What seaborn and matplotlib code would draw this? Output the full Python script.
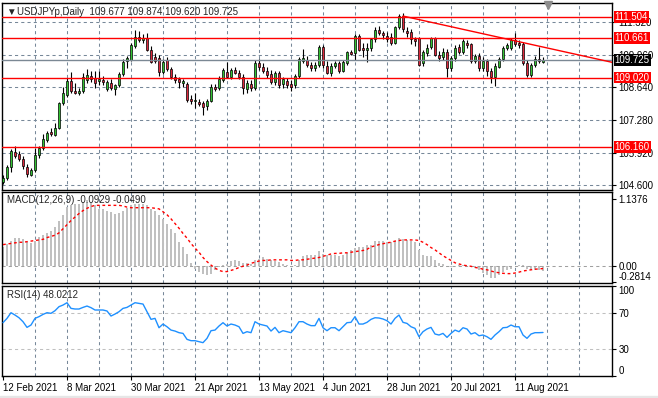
import numpy as np
import pandas as pd
import matplotlib.pyplot as plt
import seaborn as sns
from matplotlib.transforms import blended_transform_factory


# Daily USDJPYp bars, 12 Feb 2021 .. 20 Aug 2021
opens = [104.72, 104.88, 105.33, 105.97, 105.88, 105.67, 105.34, 105.02, 105.22, 105.84,
         106.12, 106.45, 106.78, 106.66, 106.95, 107.97, 108.30, 108.88, 108.48, 108.37,
         108.47, 108.92, 109.08, 109.02, 108.87, 108.93, 108.54, 108.81, 108.54, 108.72,
         109.17, 109.70, 109.74, 110.33, 110.68, 110.57, 110.64, 110.16, 109.85, 109.81,
         109.26, 109.74, 109.37, 109.03, 108.95, 108.78, 108.76, 108.13, 108.05, 108.00,
         107.96, 107.85, 108.07, 108.62, 108.58, 108.92, 109.26, 109.03, 109.33, 109.22,
         109.06, 108.54, 108.76, 108.58, 109.63, 109.47, 109.30, 109.17, 108.85, 109.20,
         108.76, 108.88, 108.75, 108.72, 109.08, 109.70, 109.74, 109.54, 109.43, 109.54,
         110.27, 109.50, 109.22, 109.50, 109.61, 109.30, 109.61, 110.09, 110.02, 110.73,
         110.23, 110.16, 110.23, 110.60, 110.98, 110.87, 110.73, 110.68, 110.46, 111.11,
         111.55, 110.95, 110.91, 110.60, 110.64, 109.61, 110.02, 110.29, 110.64, 109.95,
         109.85, 110.09, 109.40, 109.81, 110.27, 110.09, 110.46, 110.39, 109.72, 109.91,
         109.40, 109.70, 109.29, 109.03, 109.47, 109.77, 110.23, 110.23, 110.57, 110.43,
         110.40, 109.63, 109.13, 109.54, 109.77, 109.677]

highs = [105.00, 105.40, 106.08, 106.22, 106.00, 105.80, 105.45, 105.30, 106.10, 106.20,
         106.70, 106.80, 106.95, 107.15, 108.00, 108.62, 109.00, 109.26, 108.80, 108.60,
         109.20, 109.37, 109.30, 109.30, 109.30, 109.10, 108.90, 108.95, 108.75, 109.25,
         109.80, 109.90, 110.45, 110.98, 110.95, 110.80, 110.85, 110.30, 110.05, 109.95,
         109.78, 109.85, 109.45, 109.15, 109.05, 108.95, 108.85, 108.30, 108.40, 108.15,
         108.05, 108.15, 108.75, 108.75, 109.10, 109.40, 109.67, 109.40, 109.45, 109.35,
         109.15, 108.90, 108.90, 109.75, 109.80, 109.60, 109.45, 109.35, 109.30, 109.30,
         109.05, 109.00, 108.90, 109.15, 109.85, 110.18, 109.90, 109.65, 109.65, 110.35,
         110.35, 109.70, 109.60, 109.70, 109.70, 109.75, 110.10, 110.15, 110.80, 110.80,
         110.46, 110.43, 110.65, 111.10, 111.15, 110.95, 110.90, 110.85, 111.15, 111.64,
         111.69, 111.10, 111.00, 110.70, 110.70, 110.15, 110.40, 110.70, 110.70, 110.10,
         110.25, 110.20, 109.90, 110.35, 110.40, 110.60, 110.58, 110.45, 110.00, 110.05,
         109.85, 109.80, 109.40, 109.60, 109.85, 110.30, 110.45, 110.65, 110.84, 110.55,
         110.50, 109.75, 109.60, 109.90, 110.29, 109.874]

lows = [104.62, 104.80, 105.14, 105.72, 105.60, 105.25, 104.94, 104.96, 105.15, 105.70,
        106.05, 106.35, 106.60, 106.60, 106.90, 107.90, 108.20, 108.40, 108.35, 108.30,
        108.40, 108.80, 108.85, 108.60, 108.70, 108.70, 108.45, 108.50, 108.30, 108.65,
        109.10, 109.40, 109.70, 110.25, 110.50, 110.45, 110.10, 109.60, 109.60, 109.10,
        109.15, 109.30, 108.95, 108.80, 108.60, 108.65, 108.00, 107.95, 107.75, 107.85,
        107.48, 107.70, 108.00, 108.45, 108.50, 108.85, 109.00, 108.95, 109.15, 108.95,
        108.34, 108.40, 108.45, 108.50, 109.35, 109.20, 109.00, 108.75, 108.70, 108.60,
        108.60, 108.60, 108.45, 108.60, 109.00, 109.60, 109.45, 109.30, 109.30, 109.45,
        109.40, 109.15, 109.10, 109.40, 109.20, 109.25, 109.55, 109.95, 109.74, 110.10,
        109.85, 109.67, 110.10, 110.50, 110.75, 110.60, 110.50, 110.35, 110.40, 111.00,
        110.90, 110.70, 110.40, 110.30, 109.50, 109.50, 109.90, 110.20, 109.90, 109.70,
        109.75, 109.06, 109.30, 109.70, 110.00, 110.00, 110.25, 109.60, 109.60, 109.30,
        109.30, 109.10, 108.81, 108.67, 109.40, 109.70, 110.15, 110.15, 110.30, 110.25,
        109.55, 109.05, 109.05, 109.45, 109.60, 109.620]

closes = [104.90, 105.33, 105.99, 105.80, 105.68, 105.36, 105.05, 105.20, 105.85, 106.13,
          106.48, 106.74, 106.68, 106.95, 107.97, 108.38, 108.88, 108.47, 108.40, 108.48,
          109.04, 109.11, 108.95, 108.81, 108.95, 108.82, 108.85, 108.58, 108.71, 109.17,
          109.67, 109.81, 110.36, 110.68, 110.57, 110.66, 110.16, 109.67, 109.70, 109.26,
          109.67, 109.37, 109.03, 108.92, 108.85, 108.88, 108.10, 108.06, 108.10, 107.93,
          107.82, 108.07, 108.62, 108.54, 108.95, 109.33, 109.06, 109.33, 109.22, 109.06,
          108.58, 108.79, 108.58, 109.63, 109.47, 109.30, 109.13, 108.85, 109.22, 108.72,
          108.95, 108.72, 108.65, 109.08, 109.77, 109.81, 109.54, 109.43, 109.54, 110.27,
          109.54, 109.22, 109.50, 109.61, 109.30, 109.67, 110.06, 109.99, 110.73, 110.16,
          110.16, 110.23, 110.60, 110.98, 110.84, 110.77, 110.60, 110.46, 111.11, 111.55,
          111.01, 110.84, 110.60, 110.52, 109.54, 110.09, 110.23, 110.64, 109.95, 109.81,
          110.09, 109.40, 109.81, 110.25, 110.09, 110.54, 110.35, 109.72, 109.91, 109.40,
          109.72, 109.29, 109.03, 109.50, 109.77, 110.23, 110.36, 110.57, 110.40, 110.35,
          109.61, 109.13, 109.54, 109.77, 109.70, 109.725]

# MACD(12,26,9): main (grey histogram) and signal (red dotted)
macd_main = [0.32, 0.375, 0.43, 0.47, 0.47, 0.45, 0.40, 0.39, 0.43, 0.49,
             0.52, 0.56, 0.60, 0.66, 0.76, 0.86, 1.00, 1.03, 1.05, 1.06,
             1.09, 1.12, 1.07, 1.03, 0.97, 0.97, 0.93, 0.92, 0.89, 0.90,
             0.94, 0.99, 1.03, 1.06, 1.06, 1.06, 1.03, 0.97, 0.94, 0.86,
             0.80, 0.72, 0.63, 0.55, 0.40, 0.32, 0.20, 0.05, -0.05, -0.11,
             -0.15, -0.165, -0.14, -0.08, -0.02, 0.02, 0.03, 0.08, 0.09, 0.08,
             0.05, 0.05, 0.03, 0.09, 0.12, 0.15, 0.12, 0.09, 0.08, 0.06,
             0.03, 0.02, 0.00, 0.02, 0.10, 0.165, 0.18, 0.18, 0.18, 0.245,
             0.20, 0.18, 0.18, 0.19, 0.16, 0.18, 0.22, 0.26, 0.31, 0.32,
             0.32, 0.35, 0.36, 0.42, 0.43, 0.43, 0.40, 0.40, 0.42, 0.48,
             0.46, 0.44, 0.43, 0.40, 0.26, 0.19, 0.17, 0.16, 0.10, 0.05,
             0.03, -0.02, -0.03, -0.01, 0.01, 0.02, 0.00, -0.03, -0.045, -0.08,
             -0.125, -0.165, -0.205, -0.205, -0.165, -0.11, -0.08, -0.05, -0.01, 0.02,
             0.005, -0.05, -0.08, -0.08, -0.07, -0.0929]

macd_signal = [0.36, 0.37, 0.38, 0.39, 0.40, 0.40, 0.41, 0.42, 0.43, 0.44,
               0.45, 0.48, 0.50, 0.52, 0.56, 0.63, 0.70, 0.77, 0.83, 0.89,
               0.94, 0.98, 1.01, 1.03, 1.03, 1.03, 1.03, 1.03, 1.03, 1.03,
               1.02, 1.00, 0.99, 0.99, 0.99, 0.99, 0.99, 0.99, 0.98, 0.97,
               0.92, 0.87, 0.80, 0.72, 0.64, 0.55, 0.47, 0.38, 0.30, 0.23,
               0.14, 0.07, 0.01, -0.04, -0.08, -0.10, -0.10, -0.08, -0.06, -0.03,
               -0.01, 0.01, 0.04, 0.06, 0.08, 0.09, 0.09, 0.10, 0.10, 0.10,
               0.10, 0.10, 0.09, 0.09, 0.10, 0.10, 0.11, 0.12, 0.13, 0.14,
               0.16, 0.18, 0.20, 0.21, 0.21, 0.22, 0.22, 0.23, 0.24, 0.25,
               0.26, 0.28, 0.32, 0.34, 0.36, 0.375, 0.39, 0.40, 0.42, 0.43,
               0.44, 0.44, 0.44, 0.44, 0.43, 0.40, 0.36, 0.31, 0.27, 0.22,
               0.17, 0.13, 0.09, 0.05, 0.03, 0.01, 0.00, -0.01, -0.03, -0.04,
               -0.06, -0.07, -0.09, -0.11, -0.12, -0.13, -0.135, -0.135, -0.125, -0.11,
               -0.09, -0.08, -0.07, -0.06, -0.055, -0.049]

# RSI(14)
rsi = [58.9, 63.7, 70.0, 67.4, 64.4, 60.0, 53.7, 56.3, 63.7, 65.6,
       68.1, 70.0, 69.3, 72.2, 76.7, 78.5, 81.1, 74.8, 74.1, 74.1,
       75.9, 77.4, 75.6, 73.0, 73.0, 73.0, 71.9, 66.3, 68.5, 71.1,
       74.8, 75.9, 78.5, 81.1, 80.4, 79.6, 71.1, 62.6, 63.7, 53.3,
       57.4, 54.4, 50.7, 49.6, 47.8, 47.0, 40.4, 38.9, 38.9, 37.8,
       36.7, 41.5, 50.0, 50.7, 55.2, 58.9, 55.2, 57.4, 56.3, 54.4,
       47.0, 48.9, 47.8, 60.0, 57.4, 56.3, 55.2, 49.6, 53.7, 47.8,
       50.0, 48.9, 47.8, 53.3, 60.0, 60.0, 57.4, 55.6, 55.6, 63.7,
       53.3, 50.0, 53.3, 53.3, 50.0, 54.4, 58.9, 59.3, 65.6, 57.4,
       57.4, 59.3, 62.6, 64.4, 64.1, 63.0, 61.1, 57.4, 63.7, 67.4,
       59.3, 58.1, 54.4, 52.6, 43.3, 48.9, 51.9, 53.7, 46.3, 45.2,
       47.0, 42.6, 47.0, 50.7, 48.9, 53.3, 51.9, 46.3, 47.8, 44.4,
       45.2, 43.3, 40.4, 45.2, 48.9, 53.3, 53.7, 56.3, 54.4, 54.4,
       45.2, 41.5, 46.3, 47.8, 47.8, 48.0212]

# axis text
price_ticks = [111.320, 109.960, 108.640, 107.280, 105.920, 104.600]
red_levels = [111.504, 110.661, 109.020, 106.160]
macd_ticks = [1.1376, 0.0, -0.2814]
macd_tick_labels = ['1.1376', '0.00', '-0.2814']
rsi_ticks = [100, 70, 30, 0]
rsi_levels = [70, 30]
date_bars = [0, 16, 32, 48, 64, 80, 96, 112, 128]
date_labels = ['12 Feb 2021', '8 Mar 2021', '30 Mar 2021', '21 Apr 2021', '13 May 2021',
               '4 Jun 2021', '28 Jun 2021', '20 Jul 2021', '11 Aug 2021']

# trendline anchors (bar, price), drawn as a ray to the right
trend_a = (100, 111.55)
trend_b = (128, 110.53)


df = pd.DataFrame({'open': opens, 'high': highs, 'low': lows, 'close': closes,
                   'macd': macd_main, 'signal': macd_signal, 'rsi': rsi})
df['bar'] = np.arange(len(df))

sns.set_style("white")
plt.rcParams['font.family'] = ['Liberation Sans', 'DejaVu Sans']
plt.rcParams['font.size'] = 7

W, H = 658, 398
fig = plt.figure(figsize=(W / 100, H / 100), dpi=100)


def panel(top, bottom):
    return fig.add_axes([2 / W, 1 - bottom / H, 610 / W, (bottom - top) / H])


ax = panel(2.7, 190)
ax_macd = panel(191.7, 282.7)
ax_rsi = panel(285.7, 375.7)

x_left, x_right = -0.25, 152.25
grid_kw = dict(color='#778899', lw=0.75, ls=(0, (3, 3)), zorder=1)

# Price panel
for p in price_ticks:
    ax.axhline(p, **grid_kw)

up = df['close'] >= df['open']
body_col = np.where(up, '#33c233', '#dc283c')
ax.vlines(df['bar'], df['low'], df['high'], color='black', lw=0.8, zorder=3)
ax.bar(df['bar'], (df['close'] - df['open']).abs().clip(lower=0.02),
       bottom=df[['open', 'close']].min(axis=1), width=0.72,
       color=body_col, edgecolor='black', linewidth=0.5, zorder=4)

for lv in red_levels:
    ax.axhline(lv, color='red', lw=1, zorder=5)
last_close = closes[-1]
ax.axhline(last_close, color='#7b8894', lw=1, zorder=5)

slope = (trend_b[1] - trend_a[1]) / (trend_b[0] - trend_a[0])
ray_x = [trend_a[0], x_right]
ray_y = [trend_a[1], trend_a[1] + slope * (x_right - trend_a[0])]
sns.lineplot(x=ray_x, y=ray_y, ax=ax, color='red', lw=1, zorder=6)

ax.set_ylim(104.39, 112.10)
ax.set_yticks(price_ticks)
ax.set_yticklabels([f'{p:.3f}' for p in price_ticks])

tr = blended_transform_factory(ax.transAxes, ax.transData)
for lv in red_levels:
    ax.text(1.0045, lv, f'{lv:.3f}', transform=tr, color='white', fontsize=7,
            va='center', ha='left', zorder=10, clip_on=False,
            bbox=dict(facecolor='red', edgecolor='none', pad=0.7))
ax.text(1.0045, last_close, f'{last_close:.3f}', transform=tr, color='white', fontsize=7,
        va='center', ha='left', zorder=10, clip_on=False,
        bbox=dict(facecolor='black', edgecolor='none', pad=0.7))

header = f'USDJPYp,Daily  {opens[-1]:.3f} {highs[-1]:.3f} {lows[-1]:.3f} {closes[-1]:.3f}'
ax.text(0.0062, 0.95, '\u25bc', transform=ax.transAxes, fontsize=7, va='center', zorder=10)
ax.text(0.0246, 0.95, header, transform=ax.transAxes, fontsize=7, va='center', zorder=10)
ax.plot([0.895], [0.988], marker='v', ms=6, color='#8c8c8c', transform=ax.transAxes,
        clip_on=False, zorder=10)

# MACD panel
ax_macd.bar(df['bar'], df['macd'], width=0.3, color='#c0c0c0', linewidth=0, zorder=2)
ax_macd.axhline(0, color='#a0a0a0', lw=0.75, ls=(0, (3, 3)), zorder=2)
sns.lineplot(data=df, x='bar', y='signal', ax=ax_macd, color='red', lw=1,
             linestyle=(0, (2, 2)), zorder=3)
ax_macd.set_ylim(-0.29, 1.263)
ax_macd.set_yticks(macd_ticks)
ax_macd.set_yticklabels(macd_tick_labels)
ax_macd.text(0.008, 0.909, f'MACD(12,26,9) {macd_main[-1]:.4f} {macd_signal[-1]:.4f}',
             transform=ax_macd.transAxes, fontsize=7, va='center', zorder=10)

# RSI panel
for lv in rsi_levels:
    ax_rsi.axhline(lv, color='#c0c0c0', lw=0.75, ls=(0, (3, 3)), zorder=2)
sns.lineplot(data=df, x='bar', y='rsi', ax=ax_rsi, color='#1e90ff', lw=1, zorder=3)
ax_rsi.set_ylim(0, 100)
ax_rsi.set_yticks(rsi_ticks)
ax_rsi.set_yticklabels([str(v) for v in rsi_ticks])
ax_rsi.text(0.008, 0.902, f'RSI(14) {rsi[-1]:.4f}', transform=ax_rsi.transAxes,
            fontsize=7, va='center', zorder=10)

ax_rsi.set_xticks(date_bars)
ax_rsi.set_xticklabels(date_labels, ha='left')

# common styling
for a in (ax, ax_macd, ax_rsi):
    for b in range(8, 152, 8):
        a.axvline(b, **grid_kw)
    a.set_xlim(x_left, x_right)
    a.set_xlabel('')
    a.set_ylabel('')
    for s in a.spines.values():
        s.set_color('black')
        s.set_linewidth(1.0)
    a.tick_params(axis='y', left=False, right=True, labelleft=False, labelright=True,
                  length=3, width=0.8, pad=1.5, labelsize=7, colors='black')
    a.set_facecolor('white')

for a in (ax, ax_macd):
    a.set_xticks([])
ax_rsi.tick_params(axis='x', bottom=True, length=3, width=0.8, pad=2, labelsize=7,
                   colors='black')

# edge labels are kept inside their panel, as the terminal does
ax_macd.yaxis.get_major_ticks()[2].label2.set_va('bottom')
ax_rsi.yaxis.get_major_ticks()[0].label2.set_va('top')
ax_rsi.yaxis.get_major_ticks()[3].label2.set_va('bottom')

fig.patches.append(plt.Rectangle((0, 0), 1, 2 / H, transform=fig.transFigure,
                                 color='#e6e6e6', zorder=0))

fig.savefig('out.png', dpi=100)
